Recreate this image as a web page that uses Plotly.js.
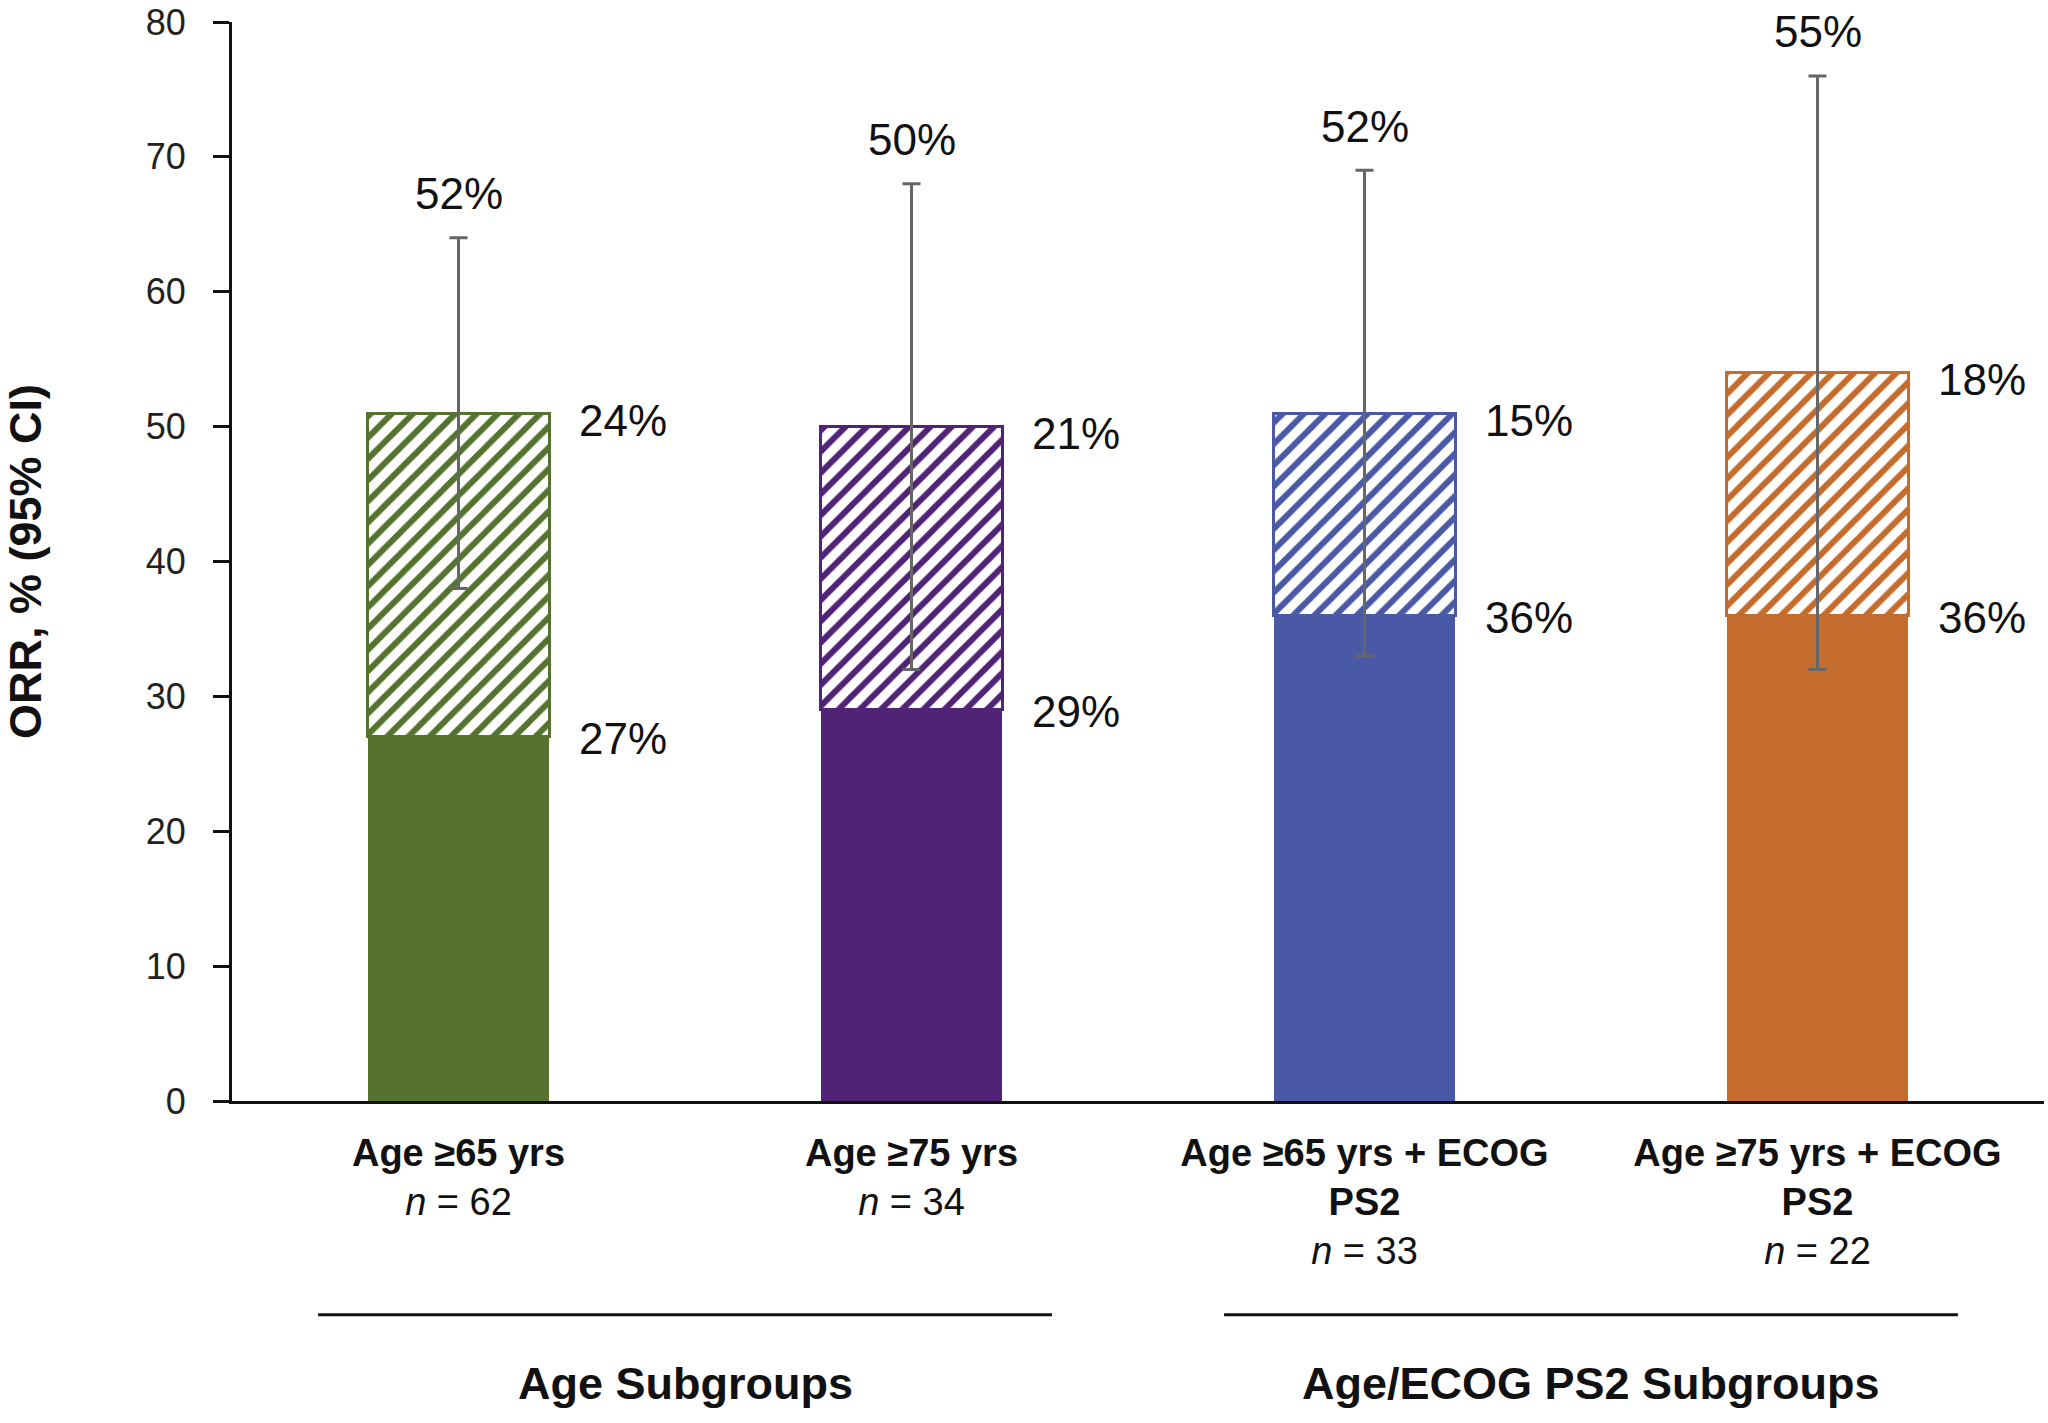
<!DOCTYPE html>
<html><head><meta charset="utf-8">
<script src="https://cdn.plot.ly/plotly-3.0.1.min.js"></script>
<style>html,body{margin:0;padding:0;background:#fff}</style>
</head><body><div id="chart" style="width:2048px;height:1423px"></div>
<script>
// ---- data ----
const categories = ['Age ≥65 yrs', 'Age ≥75 yrs', 'Age ≥65 yrs + ECOG PS2', 'Age ≥75 yrs + ECOG PS2'];
const nValues = [62, 34, 33, 22];
const solidValues = [27, 29, 36, 36];     // lower (solid) segment, %
const hatchedValues = [24, 21, 15, 18];   // upper (hatched) segment, %
const orrTotal = [52, 50, 52, 55];        // overall ORR, %
const ciLower = [38, 32, 33, 32];
const ciUpper = [64, 68, 69, 76];
const barColors = ['#55732f', '#512376', '#4a59a6', '#c46c2d'];
const groups = ['Age Subgroups', 'Age/ECOG PS2 Subgroups'];
const groupMembers = [[0, 1], [2, 3]];
const yTickVals = [0, 10, 20, 30, 40, 50, 60, 70, 80];

// ---- build ----
const FONT = 'Arial, "Liberation Sans", Helvetica, sans-serif';
const xIdx = categories.map((_, i) => i);
const tickText = categories.map((c, i) =>
  '<b>' + c.replace(' PS2', '<br>PS2') + '</b><br><i>n</i> = ' + nValues[i]);

const traces = [
  {
    type: 'bar', x: xIdx, y: solidValues, width: 0.4,
    marker: {color: barColors, line: {width: 0}},
    hoverinfo: 'skip', showlegend: false
  },
  {
    type: 'bar', x: xIdx, y: hatchedValues, width: 0.4,
    marker: {
      color: barColors,
      line: {color: barColors, width: 3},
      pattern: {shape: '/', fgcolor: barColors, bgcolor: 'white', size: 15, solidity: 0.4, fillmode: 'replace'}
    },
    hoverinfo: 'skip', showlegend: false
  },
  {
    type: 'scatter', mode: 'markers', x: xIdx, y: orrTotal,
    marker: {size: 1, opacity: 0},
    error_y: {
      type: 'data', symmetric: false,
      array: orrTotal.map((v, i) => ciUpper[i] - v),
      arrayminus: orrTotal.map((v, i) => v - ciLower[i]),
      color: '#666666', thickness: 3, width: 9
    },
    hoverinfo: 'skip', showlegend: false
  }
];

const annotations = [];
xIdx.forEach(i => {
  annotations.push({
    x: i, y: ciUpper[i], xref: 'x', yref: 'y', text: orrTotal[i] + '%',
    showarrow: false, xanchor: 'center', yanchor: 'middle', yshift: 44,
    font: {family: FONT, size: 44, color: '#111'}
  });
  annotations.push({
    x: i, y: solidValues[i] + hatchedValues[i], xref: 'x', yref: 'y', text: hatchedValues[i] + '%',
    showarrow: false, xanchor: 'left', yanchor: 'middle', xshift: 118, yshift: -7,
    font: {family: FONT, size: 44, color: '#111'}
  });
  annotations.push({
    x: i, y: solidValues[i], xref: 'x', yref: 'y', text: solidValues[i] + '%',
    showarrow: false, xanchor: 'left', yanchor: 'middle', xshift: 118, yshift: -2,
    font: {family: FONT, size: 44, color: '#111'}
  });
});

const shapes = [];
groups.forEach((g, k) => {
  const lo = Math.min(...groupMembers[k]), hi = Math.max(...groupMembers[k]);
  shapes.push({type: 'line', xref: 'x', yref: 'paper', x0: lo - 0.31, x1: hi + 0.31, y0: -0.198, y1: -0.198,
    line: {color: '#111', width: 3}});
  annotations.push({
    x: (lo + hi) / 2, y: -0.262, xref: 'x', yref: 'paper', text: '<b>' + g + '</b>',
    showarrow: false, xanchor: 'center', yanchor: 'middle',
    font: {family: FONT, size: 45, color: '#111'}
  });
});

const layout = {
  width: 2048, height: 1423,
  margin: {l: 232, r: 4, t: 22, b: 322},
  paper_bgcolor: '#fff', plot_bgcolor: '#fff',
  barmode: 'stack',
  showlegend: false,
  font: {family: FONT, color: '#111'},
  xaxis: {
    range: [-0.5, 3.5], tickvals: xIdx, ticktext: tickText,
    showline: true, linecolor: '#111', linewidth: 3, ticks: '', showgrid: false, zeroline: false,
    tickfont: {family: FONT, size: 38, color: '#111'}, ticklabelstandoff: 16
  },
  yaxis: {
    range: [0, 80], tickvals: yTickVals, showline: true, linecolor: '#111', linewidth: 3,
    ticks: 'outside', ticklen: 16, tickwidth: 3, tickcolor: '#111', showgrid: false, zeroline: false,
    tickfont: {family: FONT, size: 36, color: '#222'}, ticklabelstandoff: 20,
    title: {text: '<b>ORR, % (95% CI)</b>', font: {family: FONT, size: 45, color: '#111'}, standoff: 100}
  },
  shapes: shapes,
  annotations: annotations
};

Plotly.newPlot('chart', traces, layout, {staticPlot: true, displayModeBar: false});
</script>
</body></html>
